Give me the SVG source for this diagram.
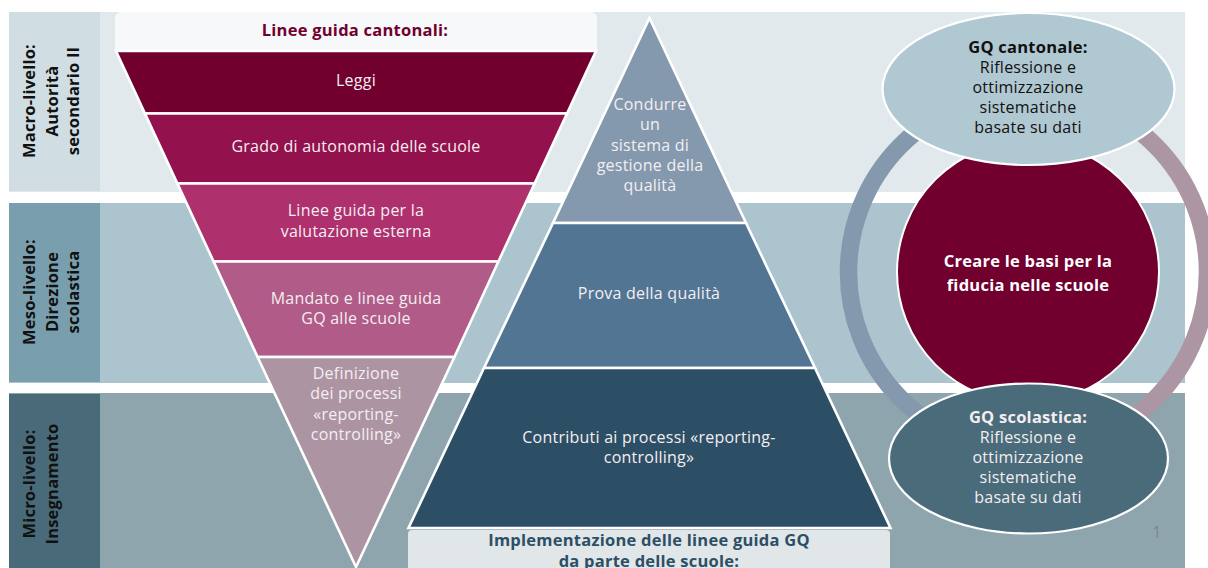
<svg xmlns="http://www.w3.org/2000/svg" width="1208" height="568" viewBox="0 0 1208 568">
<style>
text{font-family:"Open Sans","Noto Sans","Liberation Sans",sans-serif;font-size:16px;letter-spacing:.24px;text-anchor:middle;fill:#f4eef1}
.b{font-weight:700;font-size:16.500px;letter-spacing:.24px}
.l{font-size:16.500px;letter-spacing:.2px;font-weight:700;fill:#111}
.s{stroke:#fff;stroke-width:2.6;stroke-linejoin:miter}
.r{fill:none;stroke-width:17.5}
</style>
<rect width="1208" height="568" fill="#fff"/>
<g id="band-macro"><rect x="9" y="12" width="1176" height="180" fill="#e1e9ed"/><rect x="9" y="12" width="91" height="179" fill="#d0dee4"/>
<text class="l" transform="translate(35,101) rotate(-90)">Macro-livello:</text><text class="l" transform="translate(58,101) rotate(-90)">Autorità</text><text class="l" transform="translate(79,101) rotate(-90)">secondario II</text></g>
<g id="band-meso"><rect x="9" y="203" width="1176" height="180" fill="#acc4ce"/><rect x="9" y="203" width="91" height="179" fill="#799fae"/>
<text class="l" transform="translate(35,292) rotate(-90)">Meso-livello:</text><text class="l" transform="translate(58,292) rotate(-90)">Direzione</text><text class="l" transform="translate(79,292) rotate(-90)">scolastica</text></g>
<g id="band-micro"><rect x="9" y="393" width="1176" height="175" fill="#8fa5ad"/><rect x="9" y="394" width="91" height="174" fill="#486a79"/>
<text class="l" transform="translate(35,484) rotate(-90)">Micro-livello:</text><text class="l" transform="translate(58,484) rotate(-90)">Insegnamento</text></g>

<g id="header-cantonali"><path d="M115 50V18a6 6 0 0 1 6-6H591a6 6 0 0 1 6 6V50Z" fill="#f6f8fa"/><text class="b" x="355" y="36" style="fill:#71002e">Linee guida cantonali:</text></g>
<g id="inv-leggi"><polygon class="s" points="116,51 596,51 567,113.5 145,113.5" fill="#71002e"/><text x="356" y="86">Leggi</text></g>
<g id="inv-grado"><polygon class="s" points="145,113.5 567,113.5 534.6,183.5 177.4,183.5" fill="#93114c"/><text x="356" y="152">Grado di autonomia delle scuole</text></g>
<g id="inv-linee"><polygon class="s" points="177.4,183.5 534.6,183.5 498.4,261.5 213.6,261.5" fill="#ae306d"/><text x="356" y="216">Linee guida per la</text><text x="356" y="237">valutazione esterna</text></g>
<g id="inv-mandato"><polygon class="s" points="213.6,261.5 498.4,261.5 454.4,357 257.6,357" fill="#b05b88"/><text x="356" y="304">Mandato e linee guida</text><text x="356" y="324">GQ alle scuole</text></g>
<g id="inv-definizione"><polygon class="s" points="257.6,357 454.4,357 356,567" fill="#ad94a3"/><text x="356" y="379">Definizione</text><text x="356" y="399">dei processi</text><text x="356" y="420">«reporting-</text><text x="356" y="440">controlling»</text></g>

<g id="pyr-condurre"><polygon class="s" points="649.5,18 746,223 553,223" fill="#8499ae"/><text x="650" y="110">Condurre</text><text x="650" y="130">un</text><text x="650" y="151">sistema di</text><text x="650" y="171">gestione della</text><text x="650" y="191">qualità</text></g>
<g id="pyr-prova"><polygon class="s" points="553,223 746,223 815,368 484,368" fill="#517592"/><text x="649" y="299">Prova della qualità</text></g>
<g id="pyr-contributi"><polygon class="s" points="484,368 815,368 890.5,528 408.5,528" fill="#2d4f66"/><text x="649" y="443">Contributi ai processi «reporting-</text><text x="649" y="463">controlling»</text></g>
<g id="footer-implementazione"><path d="M408 568V534a4 4 0 0 1 4-4H886a4 4 0 0 1 4 4V568Z" fill="#e1e6e9"/><text class="b" x="649" y="546" style="fill:#2d4f66">Implementazione delle linee guida GQ</text><text class="b" x="649" y="567" style="fill:#2d4f66">da parte delle scuole:</text></g>

<g id="connectors"><path class="r" d="M1028 92.500A179.500 179.500 0 0 0 1028 451.500" stroke="#8499ae"/><path class="r" d="M1028 92.500A179.500 179.500 0 0 1 1028 451.500" stroke="#ad96a3"/></g>
<g id="centre-fiducia"><circle cx="1028" cy="272" r="131" fill="#71002e" stroke="#fff" stroke-width="2"/><text class="b" x="1028" y="267" style="fill:#fff">Creare le basi per la</text><text class="b" x="1028" y="291" style="fill:#fff">fiducia nelle scuole</text></g>
<g id="ellipse-cantonale"><ellipse cx="1028.500" cy="89" rx="146" ry="76" fill="#b0c8d2" stroke="#fff" stroke-width="2.200"/><text class="b" x="1028" y="53" style="fill:#111">GQ cantonale:</text><text x="1028" y="73" style="fill:#111">Riflessione e</text><text x="1028" y="93" style="fill:#111">ottimizzazione</text><text x="1028" y="113" style="fill:#111">sistematiche</text><text x="1028" y="133" style="fill:#111">basate su dati</text></g>
<g id="ellipse-scolastica"><ellipse cx="1028.500" cy="458.500" rx="139.500" ry="75" fill="#4a6b7a" stroke="#fff" stroke-width="2.200"/><text class="b" x="1028" y="423">GQ scolastica:</text><text x="1028" y="443">Riflessione e</text><text x="1028" y="463">ottimizzazione</text><text x="1028" y="483">sistematiche</text><text x="1028" y="503">basate su dati</text></g>
<text id="page-number" x="1157" y="538" style="fill:#76898f">1</text>
</svg>
